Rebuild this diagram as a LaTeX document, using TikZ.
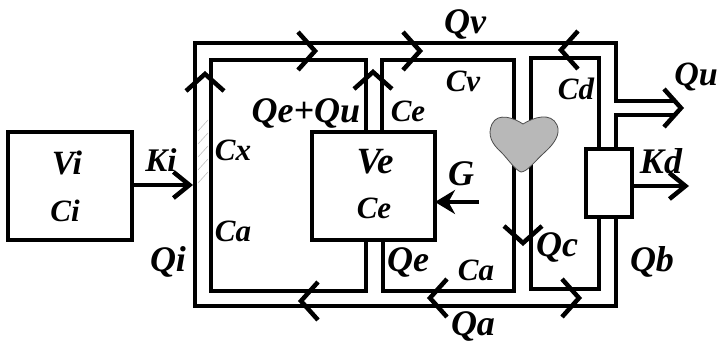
\documentclass[tikz,border=0pt]{standalone}
\usepackage{fontspec}
\setmainfont{Liberation Serif}
\usepackage{xcolor}
\usetikzlibrary{arrows.meta, positioning, calc}
\definecolor{heartgray}{gray}{0.72}
\tikzstyle{vessel} = [rectangle, draw=black, line width=4.5pt, inner sep=0pt, outer sep=0pt]
\tikzstyle{pipe} = [line width=4.5pt, line join=miter]
\tikzstyle{chev} = [line width=4.5pt, line join=miter]
\tikzstyle{outflow} = [line width=4pt,-{Straight Barb[length=16pt,width=26pt,line width=4.5pt]}]
\tikzstyle{label} = [font=\fontsize{31}{31}\selectfont\bfseries\itshape, inner sep=0pt]
\tikzstyle{biglabel} = [font=\fontsize{36}{36}\selectfont\bfseries\itshape, inner sep=0pt]

\begin{document}
\begin{tikzpicture}[x=1pt, y=-1pt]
    \useasboundingbox (0,0) rectangle (718,347);
    \fill[white] (0,0) rectangle (718,347);

    % boxes
    \node (vi) [vessel, minimum width=124pt, minimum height=108pt, anchor=north west] at (8,132) {};
    \node (ve) [vessel, minimum width=123pt, minimum height=108pt, anchor=north west] at (312,132) {};
    \node (kd) [vessel, minimum width=46pt, minimum height=68pt, anchor=north west] at (586,149) {};

    % corners
    \coordinate (kitip) at (193,185);
    \coordinate (kdtip) at (689,186);
    \coordinate (gtail) at (479,202);
    \coordinate (quhigh) at (676,101);
    \coordinate (qulow) at (676,115);

    % hatched wall
    \foreach \y in {120,133,146,159,172}
        \draw[gray!50, line width=0.6pt] (198,\y+11) -- (208,\y);

    % outer loop
    \draw [pipe] (quhigh) -- (616,101) -- (616,43) -- (195,43) -- (195,306) -- (616,306) -- (kd.south -| 616,306);
    \draw [pipe] (qulow) -- (616,115) -- (kd.north -| 616,115);
    % chambers
    \draw [pipe] (ve.north -| 366,0) -- (366,60) -- (211,60) -- (211,291) -- (366,291) -- (ve.south -| 366,0);
    \draw [pipe] (ve.north -| 382,0) -- (382,60) -- (514,60) -- (514,291) -- (383,291) -- (ve.south -| 383,0);
    \draw [pipe] (kd.north -| 599,0) -- (599,58) -- (531,58) -- (531,289) -- (599,289) -- (kd.south -| 599,0);

    % heart
    \draw[fill=heartgray, draw=black!70, line width=0.8pt] (523,124)
        .. controls (514,118) and (498,112) .. (492,124)
        .. controls (487,135) and (492,144) .. (501,152)
        .. controls (508,159) and (515,170) .. (521,172)
        .. controls (527,172) and (535,161) .. (545,152)
        .. controls (554,144) and (561,134) .. (557,125)
        .. controls (551,112) and (534,117) .. (523,124);

    % flow marks
    \foreach \x/\y/\r in {315/51/0, 420/51/0, 561/50/180, 205/74/90, 373/72/90,
                          301/301/180, 430/298/180, 523/243/-90, 579/298/0, 681/108/0}
        \draw[chev, shift={(\x,\y)}, rotate=\r] (-17,-19) -- (0,0) -- (-17,19);

    % arrows
    \draw [outflow] (vi.east |- kitip) -- (kitip);
    \draw [outflow] (kd.east |- kdtip) -- (kdtip);
    \draw [line width=4pt, -{Stealth[length=20pt,width=24pt]}] (gtail) -- (gtail -| ve.east);

    % labels
    \node (lvi) [label, font=\fontsize{34}{34}\selectfont\bfseries\itshape] at (67,163) {Vi};
    \node (lci) [label] at (65,211) {Ci};
    \node (lki) [label, font=\fontsize{33}{33}\selectfont\bfseries\itshape] at (161,160) {Ki};
    \node (lqi) [biglabel] at (168,262) {Qi};
    \node (lcx) [label] at (233,150) {Cx};
    \node (lcaa) [label] at (233,231) {Ca};
    \node (lqequ) [biglabel] at (306,114) {Qe+Qu};
    \node (lcea) [label] at (408,111) {Ce};
    \node (lve) [biglabel, font=\fontsize{37}{37}\selectfont\bfseries\itshape] at (375,162) {Ve};
    \node (lceb) [label] at (374,208) {Ce};
    \node (lg) [biglabel] at (461,174) {G};
    \node (lqv) [biglabel] at (465,25) {Qv};
    \node (lcv) [label] at (463,81) {Cv};
    \node (lcd) [label] at (576,89) {Cd};
    \node (lqu) [label, font=\fontsize{34}{34}\selectfont\bfseries\itshape] at (696,77) {Qu};
    \node (lkd) [biglabel] at (661,161) {Kd};
    \node (lqc) [biglabel] at (557,248) {Qc};
    \node (lcab) [label] at (476,270) {Ca};
    \node (lqe) [biglabel] at (408,263) {Qe};
    \node (lqa) [biglabel] at (473,327) {Qa};
    \node (lqb) [biglabel] at (652,262) {Qb};
\end{tikzpicture}
\end{document}
